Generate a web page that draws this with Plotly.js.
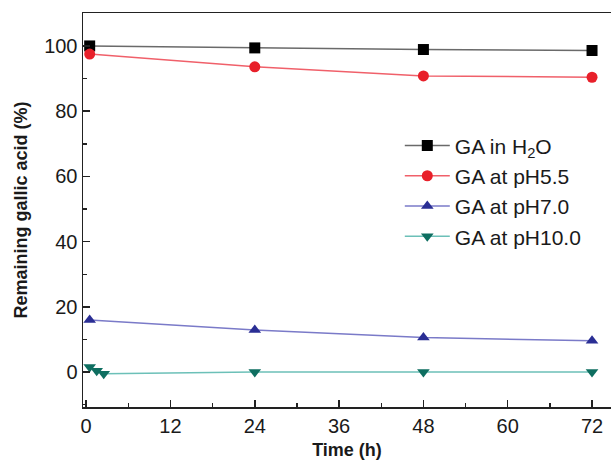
<!DOCTYPE html>
<html>
<head>
<meta charset="utf-8">
<script src="https://cdn.plot.ly/plotly-3.0.1.min.js"></script>
<style>html,body{margin:0;padding:0;background:#fff;}#chart{width:611px;height:466px;}</style>
</head>
<body>
<div id="chart"></div>
<script>
const seriesNames = ["GA in H<sub>2</sub>O", "GA at pH5.5", "GA at pH7.0", "GA at pH10.0"];
const timeMain = [0.5, 24, 48, 72];
const valH2O = [100, 99.4, 98.9, 98.6];
const valPH55 = [97.5, 93.6, 90.8, 90.4];
const valPH70 = [16.0, 12.9, 10.6, 9.6];
const timePH10 = [0.5, 1.5, 2.5, 24, 48, 72];
const valPH10 = [1.6, 0.4, -0.5, 0, 0, 0];
const xTicks = [0, 12, 24, 36, 48, 60, 72];
const yTicks = [0, 20, 40, 60, 80, 100];

const lineColors = ["#6a6a6a", "#f0606a", "#7a7ac8", "#6cc0b8"];
const markerColors = ["#000000", "#e8202a", "#2a2e94", "#0e6e60"];
const symbols = ["square", "circle", "triangle-up", "triangle-down"];
const xs = [timeMain, timeMain, timeMain, timePH10];
const ys = [valH2O, valPH55, valPH70, valPH10];

const traces = seriesNames.map((n, i) => ({
  x: xs[i], y: ys[i], name: n, type: "scatter", mode: "lines+markers",
  line: {color: lineColors[i], width: 1.5},
  marker: {symbol: symbols[i], color: markerColors[i], size: 11, line: {width: 0}}
}));

const fontFam = "Liberation Sans, Arial, sans-serif";
const layout = {
  width: 611, height: 466,
  margin: {l: 83, r: 0, t: 13, b: 59},
  paper_bgcolor: "#fff", plot_bgcolor: "#fff",
  font: {family: fontFam, size: 20, color: "#1a1a1a"},
  showlegend: true,
  legend: {x: 0.6, y: 0.715, xanchor: "left", yanchor: "top", bgcolor: "rgba(0,0,0,0)",
           font: {size: 21, family: fontFam}, itemwidth: 45, tracegroupgap: 0},
  xaxis: {
    range: [-0.45, 74.7], tickvals: xTicks, ticks: "inside", ticklen: 7, tickwidth: 1.5,
    tickcolor: "#222", showline: true, linecolor: "#222", linewidth: 1.5, mirror: true,
    showgrid: false, zeroline: false, tickfont: {size: 20},
    minor: {dtick: 6, tick0: 0, ticks: "inside", ticklen: 4, tickcolor: "#222", tickwidth: 1.5},
    title: {text: "<b>Time (h)</b>", font: {size: 18, family: fontFam}, standoff: 8}
  },
  yaxis: {
    range: [-10.7, 110.1], tickvals: yTicks, ticks: "inside", ticklen: 7, tickwidth: 1.5,
    tickcolor: "#222", showline: true, linecolor: "#222", linewidth: 1.5,
    showgrid: false, zeroline: false, tickfont: {size: 20},
    minor: {dtick: 10, tick0: 0, ticks: "inside", ticklen: 4, tickcolor: "#222", tickwidth: 1.5},
    title: {text: "<b>Remaining gallic acid (%)</b>", font: {size: 18, family: fontFam}, standoff: 12}
  }
};
Plotly.newPlot("chart", traces, layout, {displayModeBar: false, staticPlot: true});
</script>
</body>
</html>
